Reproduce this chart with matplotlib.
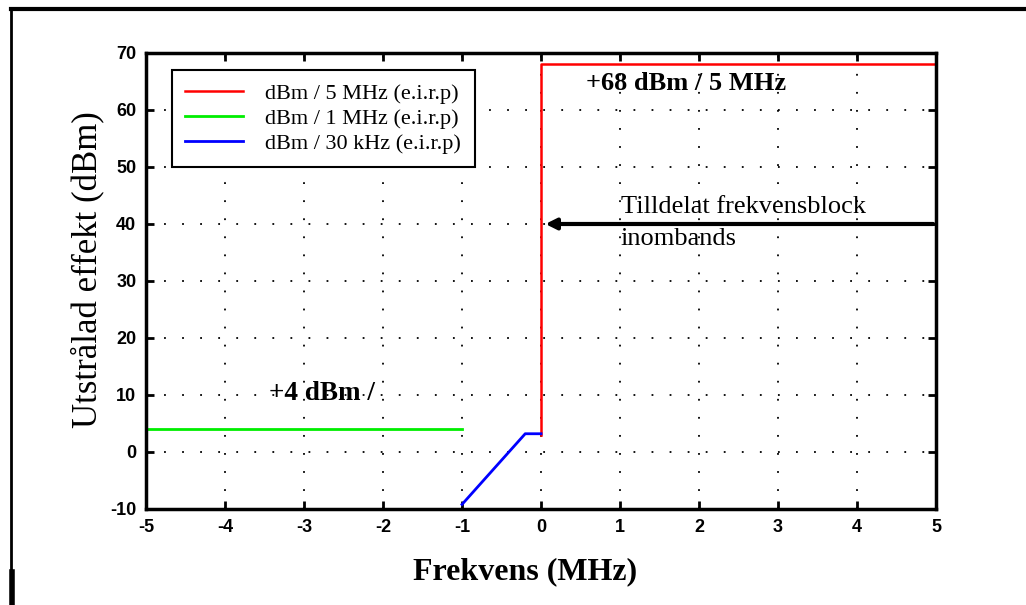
import matplotlib
matplotlib.use("Agg")
import matplotlib.pyplot as plt
from matplotlib.lines import Line2D

# data
red_x = [0, 0, 5]
red_y = [3, 68, 68]
green_x = [-5, -1]
green_y = [4, 4]
blue_x = [-1, -0.2, 0]
blue_y = [-9.2, 3.2, 3.2]

legend_labels = ['dBm / 5 MHz (e.i.r.p)', 'dBm / 1 MHz (e.i.r.p)', 'dBm / 30 kHz (e.i.r.p)']
xticks = [-5, -4, -3, -2, -1, 0, 1, 2, 3, 4, 5]
yticks = [-10, 0, 10, 20, 30, 40, 50, 60, 70]

serif = ['Liberation Serif', 'DejaVu Serif']
sans = ['Liberation Sans', 'DejaVu Sans']

fig = plt.figure(figsize=(10.26, 6.05), dpi=100)
ax = fig.add_axes([0.1423, 0.1587, 0.770, 0.7537])

ax.plot(red_x, red_y, color='#ff0000', lw=1.8, label=legend_labels[0])
ax.plot(green_x, green_y, color='#00ee00', lw=2, label=legend_labels[1])
ax.plot(blue_x, blue_y, color='#0000ff', lw=2, label=legend_labels[2])

ax.set_xlim(-5, 5)
ax.set_ylim(-10, 70)
ax.set_xticks(xticks)
ax.set_yticks(yticks)
ax.set_xticklabels([str(v) for v in xticks], fontfamily=sans, fontweight='bold', fontsize=13)
ax.set_yticklabels([str(v) for v in yticks], fontfamily=sans, fontweight='bold', fontsize=13)
ax.tick_params(direction='in', length=6, width=2, top=True, right=True, pad=7)
ax.grid(True, color='black', linestyle=(0, (1, 9)), lw=1.3)
for s in ax.spines.values():
    s.set_linewidth(2.5)

ax.set_xlabel('Frekvens (MHz)', fontfamily=serif, fontweight='bold', fontsize=23)
ax.xaxis.set_label_coords(0.48, -0.105)
ax.set_ylabel('Utstrålad effekt (dBm)', fontfamily=serif, fontsize=25)
ax.yaxis.set_label_coords(-0.053, 0.526)

leg = ax.legend(loc='upper left', bbox_to_anchor=(0.033, 0.963), borderaxespad=0,
                prop={'family': serif, 'size': 16}, handlelength=2.6, handletextpad=1.0,
                labelspacing=0.2, borderpad=0.6, fancybox=False, framealpha=1)
leg.get_frame().set_edgecolor('black')
leg.get_frame().set_linewidth(1.5)

ax.text(0.57, 64.6, '+68 dBm / 5 MHz', fontfamily=serif, fontweight='bold', fontsize=19, va='center')
ax.text(-3.44, 10.3, '+4 dBm /', fontfamily=serif, fontweight='bold', fontsize=19.5, va='center')
ax.text(1.01, 43.0, 'Tilldelat frekvensblock', fontfamily=serif, fontsize=19, va='center')
ax.text(1.01, 37.3, 'inombands', fontfamily=serif, fontsize=19, va='center')
ax.annotate('', xy=(0.02, 40), xytext=(5, 40),
            arrowprops=dict(arrowstyle='-|>', color='black', lw=3, mutation_scale=16))

# outer frame of the original document
fig.add_artist(Line2D([0.0107, 1.0], [0.985, 0.985], color='black', lw=3))
fig.add_artist(Line2D([0.0107, 0.0107], [0.0, 0.985], color='black', lw=2))
fig.add_artist(Line2D([0.0117, 0.0117], [0.0, 0.055], color='black', lw=4))

fig.savefig('out.png', dpi=100)
